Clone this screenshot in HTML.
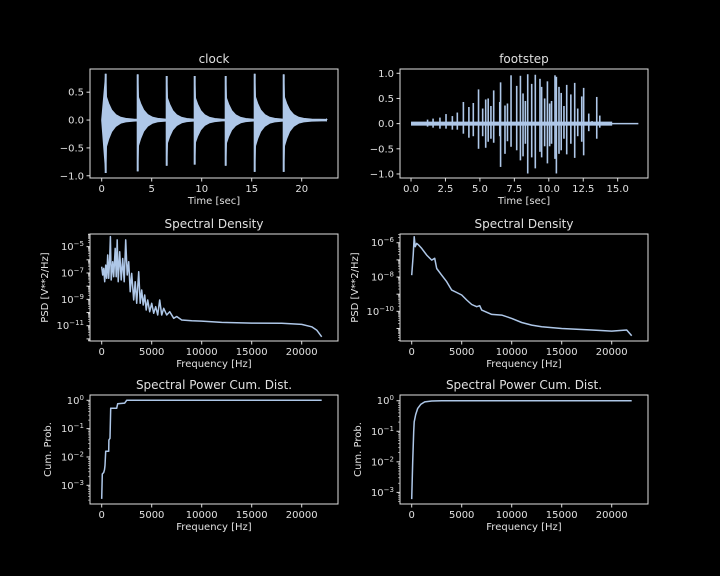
<!DOCTYPE html>
<html><head><meta charset="utf-8"><style>
html,body{margin:0;padding:0;background:#000;}
svg{display:block;font-family:"DejaVu Sans","Liberation Sans",sans-serif;}
</style></head><body>
<svg id="fig" width="720" height="576" viewBox="0 0 720 576">
<rect width="720" height="576" fill="#000"/>
</svg>
<script>
// ---- data ----
const clockPulseTimes = [0.4, 3.6, 6.5, 9.3, 12.4, 15.3, 18.2];
const clockPulsePos = [0.83, 0.82, 0.79, 0.79, 0.79, 0.83, 0.82];
const clockPulseNeg = [-0.95, -0.92, -0.82, -0.80, -0.82, -0.93, -0.93];
const decayOffsets = [0, 0.08, 0.3, 0.6, 1.0, 1.5, 2.0, 2.8, 4.3];
const decayFrac = [1, 0.5, 0.36, 0.22, 0.12, 0.06, 0.035, 0.02, 0.015];
const clockEnd = 22.5;

const footTimes = [2.54,3.36,3.8,4.2,4.52,4.9,5.42,5.6,6.0,6.44,6.5,6.82,7.26,7.67,7.94,8.13,8.47,8.76,9.02,9.36,9.48,9.9,10.06,10.45,10.55,10.74,10.9,11.3,11.6,11.88,12.39,12.53,13.14,13.48,13.7,1.2,1.6,2.1,3.0,5.2,5.8,7.0,8.3,9.7,10.2,11.1,12.1,12.9];
const footPos = [0.19,0.22,0.43,0.33,0.41,0.68,0.48,0.5,0.66,0.43,0.82,0.36,0.96,0.75,0.95,0.6,0.98,0.79,0.97,0.89,0.73,0.84,0.4,0.96,0.93,0.73,0.61,0.77,0.58,0.81,0.54,0.71,0.05,0.53,0.16,0.08,0.1,0.12,0.15,0.3,0.35,0.4,0.45,0.5,0.45,0.35,0.3,0.2];
const footNeg = [-0.1,-0.12,-0.2,-0.28,-0.25,-0.5,-0.48,-0.36,-0.38,-0.25,-0.86,-0.6,-0.46,-0.53,-0.73,-0.65,-0.99,-0.67,-0.89,-0.56,-0.67,-0.79,-0.45,-0.7,-0.99,-0.6,-0.53,-0.61,-0.4,-0.68,-0.36,-0.63,-0.03,-0.3,-0.08,-0.06,-0.08,-0.1,-0.12,-0.25,-0.3,-0.35,-0.4,-0.45,-0.4,-0.3,-0.25,-0.15];
const footNoiseEnd = 14.6, footEnd = 16.5;

const psdClockFreq = [0,100,200,300,400,500,600,700,800,870,950,1100,1200,1350,1450,1550,1650,1800,1950,2100,2250,2400,2550,2700,2850,3000,3200,3350,3500,3700,3850,4000,4150,4300,4450,4600,4800,5000,5200,5400,5600,5800,6000,6200,6500,6800,7200,7500,8000,9000,10000,12000,15000,18000,20000,21000,21500,22000];
const psdClockLog = [-6.52,-7.15,-6.65,-7.66,-6.4,-7.4,-5.63,-7.4,-5.9,-4.24,-7.53,-6.14,-7.28,-5.13,-7.28,-4.49,-7.66,-5.38,-7.53,-5.9,-7.66,-4.49,-7.15,-6.14,-8.42,-7.03,-9.05,-7.66,-9.3,-6.9,-9.3,-8.29,-9.43,-8.67,-9.81,-9.05,-9.94,-9.3,-10.06,-9.56,-10.19,-9.05,-10.19,-9.68,-10.19,-9.94,-10.44,-10.3,-10.57,-10.62,-10.65,-10.75,-10.8,-10.82,-10.9,-11.08,-11.33,-11.84];

const psdFootFreq = [0,150,250,350,500,700,1000,1500,2000,2300,2500,3000,3500,4000,4500,5000,5500,6000,6500,6800,7000,8000,9000,10000,11000,12000,13000,15000,18000,20000,21500,22000];
const psdFootLog = [-7.89,-6.72,-5.65,-6.23,-6.04,-6.14,-6.33,-6.72,-7.01,-6.91,-7.5,-7.89,-8.27,-8.76,-8.9,-9.05,-9.34,-9.6,-9.73,-9.67,-9.93,-10.18,-10.22,-10.41,-10.65,-10.8,-10.9,-11.0,-11.09,-11.15,-11.09,-11.42];

const cdfClockFreq = [0,60,200,280,330,400,700,720,830,900,1500,1600,2300,2500,22000];
const cdfClockLog = [-3.48,-2.6,-2.55,-2.45,-2.3,-1.8,-1.8,-1.4,-1.34,-0.28,-0.28,-0.12,-0.1,0,0];

const cdfFootFreq = [0,100,200,250,400,600,900,1300,2000,3000,22000];
const cdfFootLog = [-3.22,-2.0,-1.01,-0.69,-0.45,-0.25,-0.12,-0.04,-0.01,0,0];

const linTicksClockX = [0,5,10,15,20];
const linTicksFootX = [0,2.5,5,7.5,10,12.5,15];
const freqTicks = [0,5000,10000,15000,20000];

// ---- drawing ----
const NS='http://www.w3.org/2000/svg';
const svg=document.getElementById('fig');
const FG='#e0e0e0', LINE='#aec7e8';
function mk(tag,attrs,parent){const e=document.createElementNS(NS,tag);for(const k in attrs)e.setAttribute(k,attrs[k]);(parent||svg).appendChild(e);return e;}
function makeAxes(name,x0,x1,y0,y1,xd,yd){
  const g=mk('g',{});
  
  
  const sx=v=>x0+(v-xd[0])/(xd[1]-xd[0])*(x1-x0);
  const sy=v=>y1-(v-yd[0])/(yd[1]-yd[0])*(y1-y0);
  return {g,sx,sy,x0,x1,y0,y1};
}
function frame(ax){
  const r=mk('rect',{x:ax.x0,y:ax.y0,width:ax.x1-ax.x0,height:ax.y1-ax.y0,fill:'none',stroke:FG,'stroke-width':1},ax.g);
  
  
}
function text(ax,x,y,s,anchor,size,name,rot){
  const t=mk('text',{x:x,y:y,fill:FG,'font-size':size||10,'text-anchor':anchor||'middle'},ax.g);
  if(rot)t.setAttribute('transform','rotate(-90 '+x+' '+y+')');
  t.textContent=s;
  
  
  return t;
}
function xticks(ax,ticks,fmt){
  ticks.forEach(v=>{const x=ax.sx(v);
    mk('line',{x1:x,x2:x,y1:ax.y1,y2:ax.y1+3.5,stroke:FG},ax.g);
    text(ax,x,ax.y1+14,fmt(v),'middle',10,'x-tick-label');});
}
function yticksLin(ax,ticks,fmt){
  ticks.forEach(v=>{const y=ax.sy(v);
    mk('line',{x1:ax.x0,x2:ax.x0-3.5,y1:y,y2:y,stroke:FG},ax.g);
    text(ax,ax.x0-6,y+3.5,fmt(v),'end',10,'y-tick-label');});
}
function yticksLog(ax,exps,lo,hi){
  for(let e=Math.floor(lo);e<=Math.ceil(hi);e++){
    for(let m=2;m<=9;m++){const v=e+Math.log10(m); if(v<lo||v>hi)continue;
      const y=ax.sy(v); mk('line',{x1:ax.x0,x2:ax.x0-2,y1:y,y2:y,stroke:FG,'stroke-width':0.6},ax.g);}
    if(e>=lo&&e<=hi){const y=ax.sy(e);
      mk('line',{x1:ax.x0,x2:ax.x0-3.5,y1:y,y2:y,stroke:FG},ax.g);}
  }
  exps.forEach(e=>{const y=ax.sy(e);
    const t=text(ax,ax.x0-6,y+3.5,'10','end',10,'y-tick-label');
    t.textContent='';
    const a=mk('tspan',{},t);a.textContent='10';
    const b=mk('tspan',{dy:-4,'font-size':7},t);b.textContent=String(e).replace('-','\u2212');
  });
}
function polyline(ax,xs,ys,name){
  const pts=xs.map((x,i)=>ax.sx(x).toFixed(1)+','+ax.sy(ys[i]).toFixed(1)).join(' ');
  const p=mk('polyline',{points:pts,fill:'none',stroke:LINE,'stroke-width':1.5,'stroke-linejoin':'round'},ax.g);
  
  
}
const fmtLin=v=>(v<0?'\u2212':'')+Math.abs(v).toFixed(1);
const fmtInt=v=>String(v);

const L=[90,338], R=[400,648], R1=[69,178], R2=[234,341], R3=[395,504];

// clock waveform
{const ax=makeAxes('clock-waveform-axes',L[0],L[1],R1[0],R1[1],[-1.17,23.63],[-1.04,0.916]);
 const up=[],dn=[];
 clockPulseTimes.forEach((t0,i)=>{
   const next=i<clockPulseTimes.length-1?clockPulseTimes[i+1]:clockEnd;
   decayOffsets.forEach((o,j)=>{const t=t0+o; if(t<=next){up.push([t,clockPulsePos[i]*decayFrac[j]]);dn.push([t,clockPulseNeg[i]*decayFrac[j]]);}});
   up.push([next-0.02,0.015]);dn.push([next-0.02,-0.015]);
 });
 const all=[[0,0.01]].concat(up).concat(dn.reverse()).concat([[0,-0.01]]);
 const p=mk('polygon',{points:all.map(d=>ax.sx(d[0]).toFixed(1)+','+ax.sy(d[1]).toFixed(1)).join(' '),fill:LINE,stroke:LINE,'stroke-width':1},ax.g);
 
 
 clockPulseTimes.forEach((t,i)=>{const l=mk('line',{x1:ax.sx(t),x2:ax.sx(t),y1:ax.sy(clockPulsePos[i]),y2:ax.sy(clockPulseNeg[i]),stroke:LINE,'stroke-width':2},ax.g);
   
   });
 frame(ax); xticks(ax,linTicksClockX,fmtInt); yticksLin(ax,[0.5,0,-0.5,-1],fmtLin);
 text(ax,(L[0]+L[1])/2,R1[0]-6,'clock','middle',12,'chart-title');
 text(ax,(L[0]+L[1])/2,R1[1]+26,'Time [sec]','middle',10,'x-axis-title');
}
// footstep waveform
{const ax=makeAxes('footstep-waveform-axes',R[0],R[1],R1[0],R1[1],[-0.8,17.2],[-1.08,1.085]);
 const n=mk('rect',{x:ax.sx(0),y:ax.sy(0.04),width:ax.sx(footNoiseEnd)-ax.sx(0),height:ax.sy(-0.04)-ax.sy(0.04),fill:LINE},ax.g);
 
 
 const b=mk('line',{x1:ax.sx(0),x2:ax.sx(footEnd),y1:ax.sy(0),y2:ax.sy(0),stroke:LINE,'stroke-width':1.5},ax.g);
 
 
 footTimes.forEach((t,i)=>{const l=mk('line',{x1:ax.sx(t),x2:ax.sx(t),y1:ax.sy(footPos[i]),y2:ax.sy(footNeg[i]),stroke:LINE,'stroke-width':1.6},ax.g);
   
   });
 frame(ax); xticks(ax,linTicksFootX,fmtLin); yticksLin(ax,[1,0.5,0,-0.5,-1],fmtLin);
 text(ax,(R[0]+R[1])/2,R1[0]-6,'footstep','middle',12,'chart-title');
 text(ax,(R[0]+R[1])/2,R1[1]+26,'Time [sec]','middle',10,'x-axis-title');
}
function logPanel(name,X,Y,yd,fr,lg,exps,title,ylabel,ylx){
  const ax=makeAxes(name,X[0],X[1],Y[0],Y[1],[-1170,23630],yd);
  polyline(ax,fr,lg,name+'-line');
  frame(ax); xticks(ax,freqTicks,fmtInt); yticksLog(ax,exps,yd[0],yd[1]);
  text(ax,(X[0]+X[1])/2,Y[0]-6,title,'middle',12,'chart-title');
  text(ax,(X[0]+X[1])/2,Y[1]+26,'Frequency [Hz]','middle',10,'x-axis-title');
  text(ax,ylx,(Y[0]+Y[1])/2,ylabel,'middle',10,'y-axis-title',true);
}
logPanel('clock-psd-axes',L,R2,[-12.16,-4.04],psdClockFreq,psdClockLog,[-5,-7,-9,-11],'Spectral Density','PSD [V**2/Hz]',48);
logPanel('footstep-psd-axes',R,R2,[-11.73,-5.49],psdFootFreq,psdFootLog,[-6,-8,-10],'Spectral Density','PSD [V**2/Hz]',358);
logPanel('clock-cdf-axes',L,R3,[-3.66,0.187],cdfClockFreq,cdfClockLog,[0,-1,-2,-3],'Spectral Power Cum. Dist.','Cum. Prob.',51);
logPanel('footstep-cdf-axes',R,R3,[-3.38,0.187],cdfFootFreq,cdfFootLog,[0,-1,-2,-3],'Spectral Power Cum. Dist.','Cum. Prob.',361);
</script>
</body></html>
